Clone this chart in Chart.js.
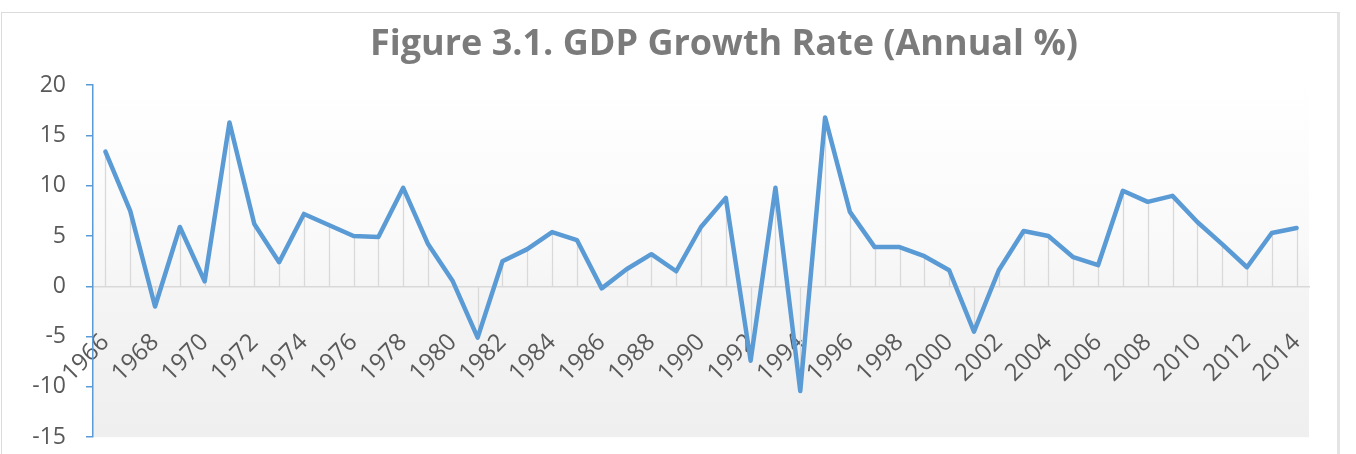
<!DOCTYPE html>
<html>
<head>
<meta charset="utf-8">
<script src="https://cdn.jsdelivr.net/npm/chart.js@4.4.1/dist/chart.umd.min.js"></script>
<style>
  html, body { margin: 0; padding: 0; background: #ffffff; overflow: hidden; }
  #frame { position: absolute; left: 1px; top: 12px; width: 1335px; height: 460px;
           border-top: 1px solid #dcdcdc; border-left: 1px solid #dcdcdc; border-right: 3px solid #e4e4e4; z-index: 0; }
  #wrap { position: absolute; left: 0; top: 0; width: 1356px; height: 454px; overflow: hidden; z-index: 1; }
</style>
</head>
<body>
<div id="frame"></div>
<div id="wrap"><canvas id="c" width="1356" height="471"></canvas></div>
<script>
const titleText = 'Figure 3.1. GDP Growth Rate (Annual %)';
const years = ['1966','1967','1968','1969','1970','1971','1972','1973','1974','1975',
  '1976','1977','1978','1979','1980','1981','1982','1983','1984','1985',
  '1986','1987','1988','1989','1990','1991','1992','1993','1994','1995',
  '1996','1997','1998','1999','2000','2001','2002','2003','2004','2005',
  '2006','2007','2008','2009','2010','2011','2012','2013','2014'];
const gdpGrowth = [13.4, 7.5, -2.0, 5.9, 0.5, 16.3, 6.2, 2.4, 7.2, 6.1,
  5.0, 4.9, 9.8, 4.2, 0.5, -5.1, 2.5, 3.7, 5.4, 4.6,
  -0.2, 1.7, 3.2, 1.5, 5.9, 8.8, -7.4, 9.8, -10.4, 16.8,
  7.4, 3.9, 3.9, 3.0, 1.6, -4.5, 1.6, 5.5, 5.0, 2.9,
  2.1, 9.5, 8.4, 9.0, 6.4, 4.2, 1.9, 5.3, 5.8];
const yTicks = [-15, -10, -5, 0, 5, 10, 15, 20];

const plotBg = {
  id: 'plotBg',
  beforeDraw(chart) {
    const {ctx, chartArea: a} = chart;
    const g = ctx.createLinearGradient(0, a.top, 0, a.bottom);
    g.addColorStop(0, '#ffffff');
    g.addColorStop(0.45, '#f9f9f9');
    g.addColorStop(0.6, '#f4f4f4');
    g.addColorStop(1, '#efefef');
    ctx.save();
    ctx.fillStyle = g;
    ctx.fillRect(a.left, a.top, a.right - a.left, a.bottom - a.top);
    ctx.restore();
  }
};

const dropLines = {
  id: 'dropLines',
  beforeDatasetsDraw(chart) {
    const {ctx} = chart;
    const meta = chart.getDatasetMeta(0);
    const y0 = chart.scales.y.getPixelForValue(0);
    ctx.save();
    ctx.strokeStyle = '#d9d9d9';
    ctx.lineWidth = 1.3;
    meta.data.forEach(p => {
      ctx.beginPath();
      ctx.moveTo(Math.round(p.x) + 0.5, p.y);
      ctx.lineTo(Math.round(p.x) + 0.5, y0);
      ctx.stroke();
    });
    ctx.restore();
  }
};

const titleShift = {
  id: 'titleShift',
  afterLayout(chart) {
    const t = chart.titleBlock;
    if (!t) return;
    const w = t.right - t.left;
    t.left = 724 - w / 2;
    t.right = 724 + w / 2;
  }
};

new Chart(document.getElementById('c'), {
  type: 'line',
  data: {
    labels: years,
    datasets: [{
      data: gdpGrowth,
      borderColor: '#5b9bd5',
      borderWidth: 4.5,
      pointRadius: 0,
      tension: 0,
      fill: false,
      borderJoinStyle: 'round',
      borderCapStyle: 'round'
    }]
  },
  options: {
    responsive: false,
    animation: false,
    layout: { padding: { left: 0, right: 47, top: 0, bottom: 0 } },
    plugins: {
      legend: { display: false },
      tooltip: { enabled: false },
      title: {
        display: true,
        text: titleText,
        color: '#7b7b7b',
        font: { family: 'Open Sans', size: 36, weight: 'bold', lineHeight: 1.2 },
        padding: { top: 23, bottom: 19 }
      }
    },
    scales: {
      x: {
        type: 'category',
        position: { y: 0 },
        offset: true,
        grid: { display: false },
        border: { display: true, color: '#d9d9d9', width: 1.5 },
        ticks: {
          autoSkip: false,
          minRotation: 45,
          maxRotation: 45,
          padding: 34,
          color: '#595959',
          font: { family: 'Open Sans', size: 24 },
          callback: function (v, i) { return i % 2 === 0 ? years[i] : ''; }
        }
      },
      y: {
        min: -15,
        max: 20,
        afterFit(scale) { scale.width = 93; },
        afterBuildTicks(scale) { scale.ticks = yTicks.map(v => ({ value: v })); },
        grid: { display: true, drawOnChartArea: false, drawTicks: true, tickLength: 7, color: '#5b9bd5', lineWidth: 1.5 },
        border: { display: true, color: '#5b9bd5', width: 1.5 },
        ticks: {
          padding: 20,
          color: '#595959',
          font: { family: 'Open Sans', size: 23 }
        }
      }
    }
  },
  plugins: [plotBg, dropLines, titleShift]
});
</script>
</body>
</html>
